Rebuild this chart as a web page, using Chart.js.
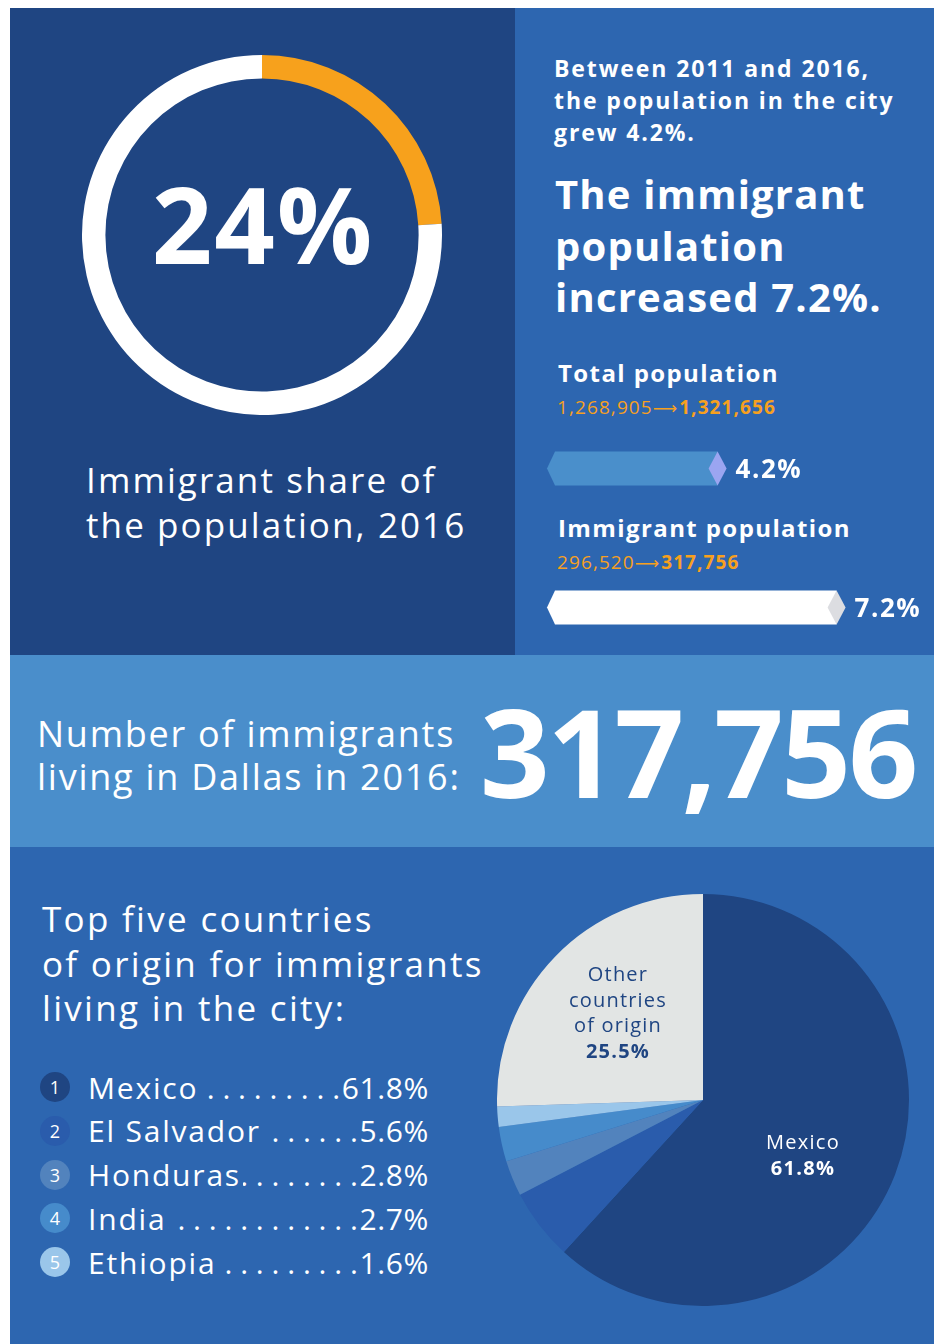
<!DOCTYPE html>
<html>
<head>
<meta charset="utf-8">
<script src="https://cdn.jsdelivr.net/npm/chart.js@4.4.1/dist/chart.umd.min.js"></script>
<style>
  html, body { margin:0; padding:0; background:#fff; }
  body { width:934px; height:1344px; position:relative; overflow:hidden; font-family:"Open Sans","Noto Sans",sans-serif; color:#fff; }
  .panel { position:absolute; }
  .txt { position:absolute; white-space:nowrap; }
  canvas { position:absolute; }
  .row { position:absolute; left:40px; width:389px; height:44px; display:flex; align-items:center; font-size:30px; letter-spacing:1.8px; }
  .num { width:30px; height:30px; border-radius:50%; display:flex; align-items:center; justify-content:center; font-size:18px; margin-right:18px; flex:none; letter-spacing:0; }
  .lead { flex:1; overflow:hidden; white-space:nowrap; direction:rtl; letter-spacing:7.8px; margin-right:-6px; margin-left:2px; }
  .val { letter-spacing:0.6px; }
  .arr { font-family:"DejaVu Sans",sans-serif; font-size:17px; letter-spacing:0; margin:0 2px 0 0; }
</style>
</head>
<body>
<div class="panel" style="left:10px;top:8px;width:505px;height:647px;background:#1f4582;"></div>
<div class="panel" style="left:515px;top:8px;width:419px;height:647px;background:#2d66b0;"></div>
<div class="panel" style="left:10px;top:655px;width:924px;height:192px;background:#4a8ecb;"></div>
<div class="panel" style="left:10px;top:847px;width:924px;height:497px;background:#2d66b0;"></div>

<canvas id="donut" width="360" height="360" style="left:82px;top:55px;"></canvas>
<div class="txt" style="left:86px;top:457px;font-size:35px;line-height:45px;letter-spacing:2.1px;">Immigrant share of<br>the population, 2016</div>

<div class="txt" style="left:554px;top:52px;font-size:23px;line-height:32px;font-weight:700;letter-spacing:1.9px;">Between 2011 and 2016,<br>the population in the city<br>grew 4.2%.</div>
<div class="txt" style="left:555px;top:168px;font-size:40px;line-height:51.5px;font-weight:700;letter-spacing:1.2px;">The immigrant<br>population<br>increased 7.2%.</div>

<div class="txt" id="lab0" style="left:558px;top:358px;font-size:24px;line-height:30px;font-weight:700;letter-spacing:1.4px;"></div>
<div class="txt" id="pop0" style="left:557px;top:395px;font-size:19px;line-height:24px;color:#f7a01e;letter-spacing:1.1px;"></div>
<div class="txt" id="lab1" style="left:558px;top:513px;font-size:24px;line-height:30px;font-weight:700;letter-spacing:1.4px;"></div>
<div class="txt" id="pop1" style="left:557px;top:550px;font-size:19px;line-height:24px;color:#f7a01e;letter-spacing:1.1px;"></div>
<canvas id="bars" width="393" height="278" style="left:541px;top:399px;"></canvas>

<div class="txt" style="left:37px;top:712px;font-size:36px;line-height:43px;letter-spacing:1.75px;">Number of immigrants<br>living in Dallas in 2016:</div>
<div class="txt" id="bignum" style="left:480px;top:690px;font-size:122px;line-height:122px;font-weight:700;letter-spacing:-2.5px;"></div>

<div class="txt" style="left:42px;top:897px;font-size:35px;line-height:44.5px;letter-spacing:2.3px;">Top five countries<br>of origin for immigrants<br>living in the city:</div>
<div id="legend"></div>

<canvas id="pie" width="412" height="412" style="left:497px;top:894px;"></canvas>
<div class="txt" id="pieOther" style="left:548px;top:961px;width:140px;text-align:center;font-size:20px;line-height:25.7px;color:#1f4582;letter-spacing:1.2px;"></div>
<div class="txt" id="pieMexico" style="left:743px;top:1129px;width:120px;text-align:center;font-size:20px;line-height:26px;letter-spacing:1.3px;"></div>

<script>
// ---- data ----
const shareLabels = ['Immigrant share', 'Rest of population'];
const shareValues = [24, 76];

const growthCategories = ['Total population', 'Immigrant population'];
const growthValues = [4.2, 7.2];
const popBefore = [1268905, 296520];
const popAfter = [1321656, 317756];

const countries = ['Mexico', 'El Salvador', 'Honduras', 'India', 'Ethiopia', 'Other countries of origin'];
const countryShares = [61.8, 5.6, 2.8, 2.7, 1.6, 25.5];
const topFiveCount = 5;

// ---- styles ----
const pieColors = ['#1f4582', '#2a5cac', '#5283bd', '#468bcb', '#9ac6ea', '#e2e5e4'];
const barBody = ['#4a8fcb', '#ffffff'];
const barTip = ['#9ba5f1', '#dcdde1'];
const FONT = '"Open Sans","Noto Sans",sans-serif';
const fmt = n => n.toLocaleString('en-US');

// texts from data
for (let i = 0; i < 2; i++) {
  document.getElementById('lab' + i).textContent = growthCategories[i];
  document.getElementById('pop' + i).innerHTML = fmt(popBefore[i]) +
    '<span class="arr">⟶</span><b>' + fmt(popAfter[i]) + '</b>';
}
document.getElementById('bignum').textContent = fmt(popAfter[1]);
document.getElementById('pieOther').innerHTML = 'Other<br>countries<br>of origin<br><b>' + countryShares[5].toFixed(1) + '%</b>';
document.getElementById('pieMexico').innerHTML = countries[0] + '<br><b>' + countryShares[0].toFixed(1) + '%</b>';

// legend
const legend = document.getElementById('legend');
for (let i = 0; i < topFiveCount; i++) {
  const row = document.createElement('div');
  row.className = 'row';
  row.style.top = (1065 + i * 43.75) + 'px';
  row.innerHTML = '<span class="num" style="background:' + pieColors[i] + '">' + (i + 1) + '</span>' +
    '<span>' + countries[i] + '</span><span class="lead">' + '.'.repeat(40) + '</span><span class="val">' + countryShares[i].toFixed(1) + '%</span>';
  legend.appendChild(row);
}

const common = { responsive:false, animation:false, events:[], plugins:{ legend:{display:false}, tooltip:{enabled:false} } };

// donut
const centerText = {
  id:'centerText',
  afterDraw(chart) {
    const c = chart.ctx, a = chart.chartArea;
    c.save();
    c.fillStyle = '#fff';
    c.font = '700 106px ' + FONT;
    c.letterSpacing = '2px';
    c.textAlign = 'center';
    c.textBaseline = 'alphabetic';
    c.fillText(shareValues[0] + '%', (a.left + a.right) / 2 + 1, (a.top + a.bottom) / 2 + 29);
    c.restore();
  }
};
new Chart(document.getElementById('donut'), {
  type:'doughnut',
  data:{ labels:shareLabels, datasets:[{ data:shareValues, backgroundColor:['#f7a11c', '#ffffff'], borderWidth:0 }] },
  options:{ ...common, cutout:'87%' },
  plugins:[centerText]
});

// bars with pointed ends
const arrowBars = {
  id:'arrowBars',
  afterDatasetsDraw(chart) {
    const c = chart.ctx;
    const meta = chart.getDatasetMeta(0);
    meta.data.forEach((bar, i) => {
      const p = bar.getProps(['x', 'y', 'base', 'height'], true);
      const h = p.height / 2, x = p.x, y = p.y, b = p.base;
      c.save();
      c.fillStyle = barBody[i];
      c.beginPath();
      c.moveTo(b - 4, y); c.lineTo(b + 4, y - h); c.lineTo(x, y - h); c.lineTo(x, y + h); c.lineTo(b + 4, y + h);
      c.closePath(); c.fill();
      c.fillStyle = barTip[i];
      c.beginPath();
      c.moveTo(x - 9, y); c.lineTo(x, y - h); c.lineTo(x + 9, y); c.lineTo(x, y + h);
      c.closePath(); c.fill();
      c.fillStyle = '#fff';
      c.font = '700 26px ' + FONT;
      c.letterSpacing = '1.5px';
      c.textAlign = 'left';
      c.textBaseline = 'alphabetic';
      c.fillText(growthValues[i].toFixed(1) + '%', x + 18, y + 9);
      c.restore();
    });
  }
};
new Chart(document.getElementById('bars'), {
  type:'bar',
  data:{ labels:growthCategories, datasets:[{ data:growthValues, backgroundColor:'rgba(0,0,0,0)', borderWidth:0, barThickness:34 }] },
  options:{ ...common, indexAxis:'y', layout:{ padding:{ left:10, right:26, top:0, bottom:0 } },
    scales:{ x:{ display:false, min:0, max:9 }, y:{ display:false } } },
  plugins:[arrowBars]
});

// pie
new Chart(document.getElementById('pie'), {
  type:'pie',
  data:{ labels:countries, datasets:[{ data:countryShares, backgroundColor:pieColors, borderWidth:0 }] },
  options:{ ...common }
});
</script>
</body>
</html>
